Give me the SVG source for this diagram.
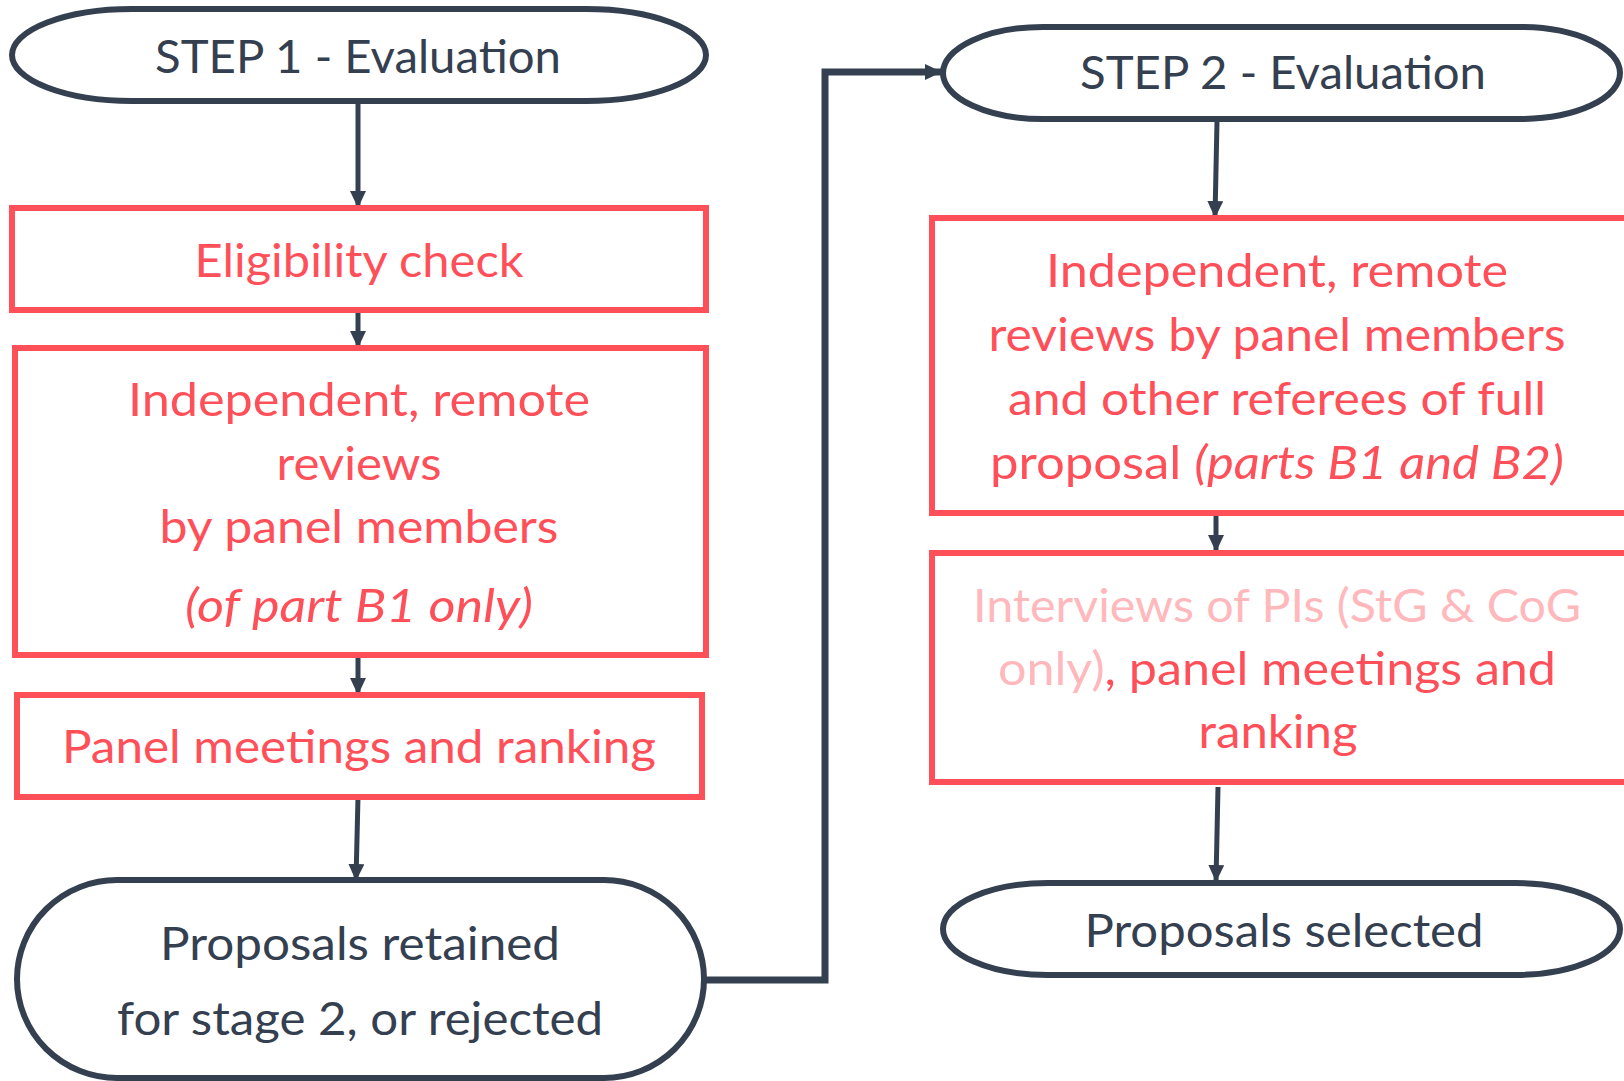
<svg xmlns="http://www.w3.org/2000/svg" width="1624" height="1081" viewBox="0 0 1624 1081">
<style>
.term{fill:#ffffff;stroke:#344050;stroke-width:6}
.box{fill:#ffffff;stroke:#FF505A;stroke-width:6}
.t{font-family:Lato,"Open Sans","Liberation Sans",sans-serif;font-size:46px;text-anchor:middle}
.dk{fill:#344050}
.rd{fill:#FF505A}
.lt{fill:#FFB8BB}
.it{font-style:italic}
.conn{fill:none;stroke:#344050;stroke-width:5}
.conn2{fill:none;stroke:#344050;stroke-width:7}
</style>
<defs>
<marker id="ah" markerWidth="17" markerHeight="16" refX="16" refY="8" orient="auto" markerUnits="userSpaceOnUse">
<path d="M0,0 L17,8 L0,16 Z" fill="#344050"/>
</marker>
</defs>
<rect width="1624" height="1081" fill="#ffffff"/>

<g id="connectors">
<line class="conn" x1="358" y1="101" x2="358" y2="207" marker-end="url(#ah)"/>
<line class="conn" x1="358" y1="310" x2="358" y2="347" marker-end="url(#ah)"/>
<line class="conn" x1="358" y1="655" x2="358" y2="694" marker-end="url(#ah)"/>
<line class="conn" x1="358" y1="797" x2="356" y2="880" marker-end="url(#ah)"/>
<polyline class="conn2" points="706,980 825,980 825,72 941,72" marker-end="url(#ah)"/>
<line class="conn" x1="1217" y1="121" x2="1215" y2="217" marker-end="url(#ah)"/>
<line class="conn" x1="1216" y1="513" x2="1216" y2="551" marker-end="url(#ah)"/>
<line class="conn" x1="1218" y1="787" x2="1216" y2="881" marker-end="url(#ah)"/>
</g>

<g id="step1">
<rect class="term" x="12" y="9" width="694" height="92" rx="120" ry="46"/>
<text class="t dk" x="358" y="73" textLength="406" lengthAdjust="spacingAndGlyphs">STEP 1 - Evaluation</text>
</g>

<g id="eligibility">
<rect class="box" x="12" y="208" width="694" height="102"/>
<text class="t rd" x="359" y="277" textLength="329" lengthAdjust="spacingAndGlyphs">Eligibility check</text>
</g>

<g id="reviews1">
<rect class="box" x="15" y="348" width="691" height="307"/>
<text class="t rd" x="359" y="416" textLength="462" lengthAdjust="spacingAndGlyphs">Independent, remote</text>
<text class="t rd" x="359" y="480" textLength="165" lengthAdjust="spacingAndGlyphs">reviews</text>
<text class="t rd" x="359" y="543" textLength="399" lengthAdjust="spacingAndGlyphs">by panel members</text>
<text class="t rd it" x="359" y="622" textLength="348" lengthAdjust="spacingAndGlyphs">(of part B1 only)</text>
</g>

<g id="panel1">
<rect class="box" x="17" y="695" width="685" height="102"/>
<text class="t rd" x="359" y="763" textLength="594" lengthAdjust="spacingAndGlyphs">Panel meetings and ranking</text>
</g>

<g id="retained">
<rect class="term" x="17" y="880" width="687" height="198" rx="100" ry="99"/>
<text class="t dk" x="360" y="960" textLength="400" lengthAdjust="spacingAndGlyphs">Proposals retained</text>
<text class="t dk" x="360" y="1035" textLength="486" lengthAdjust="spacingAndGlyphs">for stage 2, or rejected</text>
</g>

<g id="step2">
<rect class="term" x="943" y="27" width="677" height="92" rx="100" ry="46"/>
<text class="t dk" x="1283" y="89" textLength="406" lengthAdjust="spacingAndGlyphs">STEP 2 - Evaluation</text>
</g>

<g id="reviews2">
<rect class="box" x="932" y="218" width="700" height="295"/>
<text class="t rd" x="1277" y="287" textLength="462" lengthAdjust="spacingAndGlyphs">Independent, remote</text>
<text class="t rd" x="1277" y="351" textLength="577" lengthAdjust="spacingAndGlyphs">reviews by panel members</text>
<text class="t rd" x="1277" y="415" textLength="538" lengthAdjust="spacingAndGlyphs">and other referees of full</text>
<text class="t rd" x="1277" y="479" textLength="574" lengthAdjust="spacingAndGlyphs">proposal <tspan class="it">(parts B1 and B2)</tspan></text>
</g>

<g id="interviews">
<rect class="box" x="932" y="553" width="700" height="229"/>
<text class="t lt" x="1277" y="622" textLength="608" lengthAdjust="spacingAndGlyphs">Interviews of PIs (StG &amp; CoG</text>
<text class="t rd" x="1277" y="685" textLength="558" lengthAdjust="spacingAndGlyphs"><tspan class="lt">only)</tspan>, panel meetings and</text>
<text class="t rd" x="1278" y="748" textLength="159" lengthAdjust="spacingAndGlyphs">ranking</text>
</g>

<g id="selected">
<rect class="term" x="943" y="883" width="677" height="92" rx="105" ry="46"/>
<text class="t dk" x="1284" y="947" textLength="399" lengthAdjust="spacingAndGlyphs">Proposals selected</text>
</g>
</svg>
